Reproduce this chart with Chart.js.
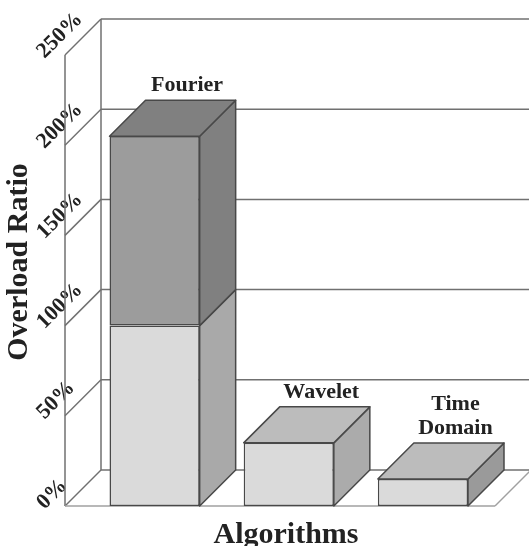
<!DOCTYPE html>
<html>
<head>
<meta charset="utf-8">
<title>Overload Ratio</title>
<script src="https://cdn.jsdelivr.net/npm/chart.js@4/dist/chart.umd.min.js"></script>
<style>
    html, body { margin: 0; padding: 0; background: #fff; overflow: hidden; }
    canvas { display: block; }
</style>
</head>
<body>
<canvas id="barChart" width="529" height="546"></canvas>
<script>
var categories = ['Fourier', 'Wavelet', ['Time', 'Domain']];
var lowerValues = [100, 35, 15];
var upperValues = [105, null, null];

var lowerFront = '#dadada';
var upperFront = '#9c9c9c';
var lowerSide = ['#a9a9a9', '#ababab', '#9a9a9a'];
var upperSide = ['#808080', '#808080', '#808080'];
var topFace = ['#808080', '#bcbcbc', '#bcbcbc'];

var depth = 36;
var serif = '"Liberation Serif", serif';

function polygon(ctx, pts, fill) {
    ctx.beginPath();
    ctx.moveTo(pts[0][0], pts[0][1]);
    for (var i = 1; i < pts.length; i++) ctx.lineTo(pts[i][0], pts[i][1]);
    ctx.closePath();
    ctx.fillStyle = fill;
    ctx.fill();
    ctx.stroke();
}

function line(ctx, x1, y1, x2, y2) {
    ctx.beginPath();
    ctx.moveTo(x1, y1);
    ctx.lineTo(x2, y2);
    ctx.stroke();
}

// back wall, side wall and floor of the box, from the y scale
var walls = {
    id: 'walls',
    beforeDatasetsDraw: function(chart) {
        var ctx = chart.ctx, y = chart.scales.y, area = chart.chartArea;
        var wallX = area.left - 22.5;
        var backX = wallX + depth;
        ctx.save();
        ctx.strokeStyle = '#707070';
        ctx.lineWidth = 1.5;
        y.ticks.forEach(function(t) {
            var py = y.getPixelForValue(t.value);
            if (t.value === 0) return;
            line(ctx, wallX, py, backX, py - depth);
            line(ctx, backX, py - depth, chart.width, py - depth);
        });
        var y0 = y.getPixelForValue(0);
        var yMax = y.getPixelForValue(y.max);
        line(ctx, wallX, yMax, wallX, y0);
        line(ctx, backX, yMax - depth, backX, y0 - depth);
        line(ctx, wallX, y0, backX, y0 - depth);
        line(ctx, backX, y0 - depth, chart.width, y0 - depth);
        ctx.strokeStyle = '#a0a0a0';
        line(ctx, wallX, y0, area.right + 5, y0);
        line(ctx, area.right + 5, y0, area.right + 5 + depth, y0 - depth);
        ctx.restore();
    }
};

// side and top faces of each bar plus the text above them
var bars3d = {
    id: 'bars3d',
    afterDatasetsDraw: function(chart) {
        var ctx = chart.ctx;
        var lower = chart.getDatasetMeta(0).data;
        var upper = chart.getDatasetMeta(1).data;
        ctx.save();
        ctx.strokeStyle = '#484848';
        ctx.lineWidth = 1.5;
        ctx.lineJoin = 'round';
        categories.forEach(function(cat, i) {
            var low = lower[i], up = upper[i];
            var r = low.x + low.width / 2, l = low.x - low.width / 2;
            polygon(ctx, [[r, low.base], [r + depth, low.base - depth], [r + depth, low.y - depth], [r, low.y]], lowerSide[i]);
            var topY = low.y;
            if (upperValues[i] !== null) {
                topY = up.y;
                polygon(ctx, [[r, up.base], [r + depth, up.base - depth], [r + depth, up.y - depth], [r, up.y]], upperSide[i]);
            }
            polygon(ctx, [[l, topY], [l + depth, topY - depth], [r + depth, topY - depth], [r, topY]], topFace[i]);

            var lines = [].concat(cat);
            ctx.fillStyle = '#222';
            ctx.font = 'bold 22px ' + serif;
            ctx.textAlign = 'center';
            ctx.textBaseline = 'middle';
            lines.forEach(function(txt, k) {
                ctx.fillText(txt, low.x + depth - 3.5, topY - depth - 15 - (lines.length - 1 - k) * 24);
            });
        });
        ctx.restore();
    },
    afterDraw: function(chart) {
        var ctx = chart.ctx;
        ctx.save();
        ctx.fillStyle = '#222';
        ctx.font = 'bold 30px ' + serif;
        ctx.textAlign = 'center';
        ctx.textBaseline = 'middle';
        ctx.fillText('Algorithms', 286, 535);
        ctx.translate(19, 262);
        ctx.rotate(-Math.PI / 2);
        ctx.fillText('Overload Ratio', 0, 0);
        ctx.restore();
    }
};

window.onload = function() {
    var ctx = document.getElementById('barChart').getContext('2d');
    new Chart(ctx, {
        type: 'bar',
        data: {
            labels: categories,
            datasets: [{
                data: lowerValues,
                backgroundColor: lowerFront,
                borderColor: '#484848',
                borderWidth: 1.5,
                borderSkipped: false
            }, {
                data: upperValues,
                backgroundColor: upperFront,
                borderColor: '#484848',
                borderWidth: 1.5,
                borderSkipped: false
            }]
        },
        options: {
            responsive: false,
            animation: false,
            layout: { padding: { left: 39, right: 39, top: 55, bottom: 40 } },
            datasets: { bar: { barPercentage: 1, categoryPercentage: 0.672 } },
            plugins: { legend: { display: false }, tooltip: { enabled: false } },
            scales: {
                x: { stacked: true, display: false },
                y: {
                    stacked: true,
                    min: 0,
                    max: 250,
                    afterFit: function(scale) { scale.width = 48.5; },
                    grid: { display: false },
                    border: { display: false },
                    ticks: {
                        stepSize: 50,
                        minRotation: 45,
                        maxRotation: 45,
                        // mirror turns off the label clip, negative padding brings the text back left of the wall
                        mirror: true,
                        crossAlign: 'near',
                        padding: -47,
                        color: '#222',
                        font: { family: serif, size: 22, weight: 'bold' },
                        callback: function(v) { return v + '%'; }
                    }
                }
            }
        },
        plugins: [walls, bars3d]
    });
};
</script>
</body>
</html>
